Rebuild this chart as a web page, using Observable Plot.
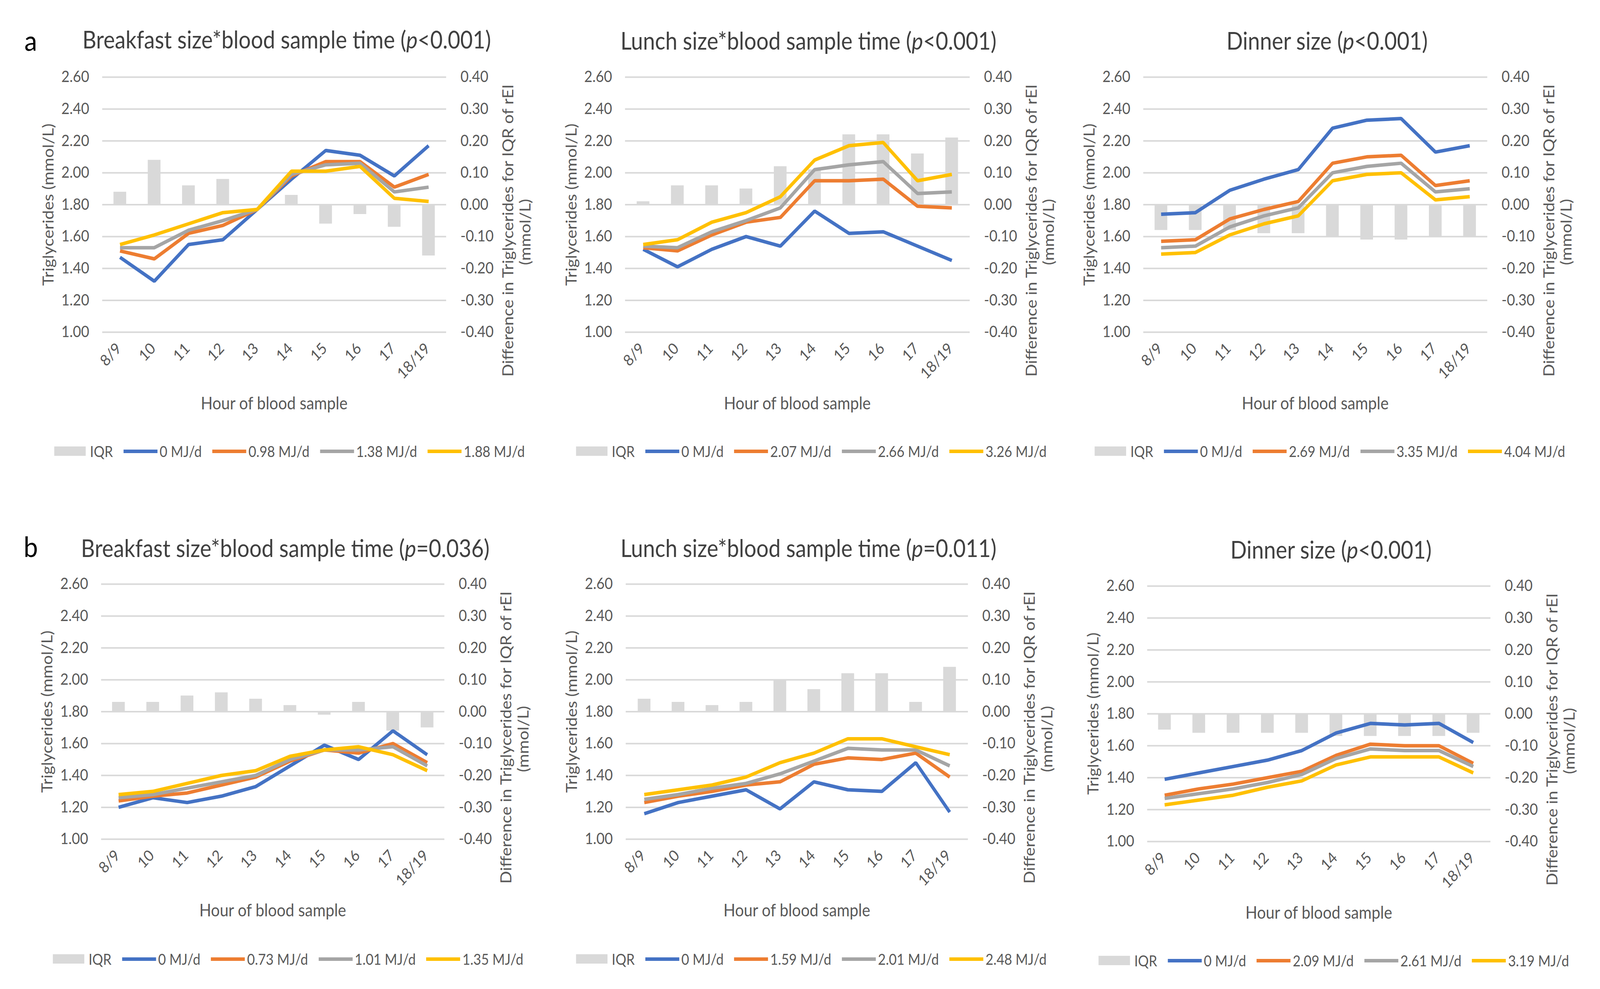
<!DOCTYPE html>
<html><head><meta charset="utf-8">
<script src="https://cdn.jsdelivr.net/npm/d3@7"></script>
<script src="https://cdn.jsdelivr.net/npm/@observablehq/plot@0.6"></script>
<style>
html,body{margin:0;padding:0;background:#fff;overflow:hidden;}
#wrap{position:relative;overflow:hidden;background:#fff;}
#root{position:absolute;left:0;top:0;width:4526px;height:2532px;font-family:Lato,"Open Sans",sans-serif;color:#595959;overflow:hidden;background:#fff;transform-origin:0 0;}
.abs{position:absolute;white-space:nowrap;line-height:1;}
.title{font-size:61px;transform:translate(-50%,-50%);color:#404040;}
.tag{font-size:72px;color:#000;transform:translate(-50%,-50%);}
.xt{font-size:44px;transform:translate(-50%,-50%);}
.yt{font-size:43px;transform:translate(-50%,-50%) rotate(-90deg);}
.legend{display:flex;align-items:center;font-size:38px;transform:translate(-50%,-50%);}
.item{display:flex;align-items:center;margin-right:30px;}
.item:last-child{margin-right:0;}
.sw{display:inline-block;margin-right:6px;}
svg{overflow:visible;}
</style></head><body><div id="wrap"><div id="root"></div></div>
<script>
// ---------- data ----------
const hours = ["8/9","10","11","12","13","14","15","16","17","18/19"];
const leftTicks = [1.0, 1.2, 1.4, 1.6, 1.8, 2.0, 2.2, 2.4, 2.6];
const seriesColors = ["#4472C4","#ED7D31","#A5A5A5","#FFC000"];

// a: Breakfast
const aBreakfastIQR = [0.04, 0.14, 0.06, 0.08, 0.00, 0.03, -0.06, -0.03, -0.07, -0.16];
const aBreakfast0   = [1.47, 1.32, 1.55, 1.58, 1.77, 1.96, 2.14, 2.11, 1.98, 2.17];
const aBreakfast098 = [1.51, 1.46, 1.62, 1.67, 1.77, 1.98, 2.07, 2.07, 1.91, 1.99];
const aBreakfast138 = [1.53, 1.53, 1.64, 1.70, 1.77, 1.99, 2.05, 2.06, 1.88, 1.91];
const aBreakfast188 = [1.55, 1.61, 1.68, 1.75, 1.77, 2.01, 2.01, 2.04, 1.84, 1.82];
const aBreakfastLegend = ["IQR","0 MJ/d","0.98 MJ/d","1.38 MJ/d","1.88 MJ/d"];

// a: Lunch
const aLunchIQR = [0.01, 0.06, 0.06, 0.05, 0.12, 0.11, 0.22, 0.22, 0.16, 0.21];
const aLunch0   = [1.52, 1.41, 1.52, 1.60, 1.54, 1.76, 1.62, 1.63, 1.54, 1.45];
const aLunch207 = [1.53, 1.51, 1.61, 1.69, 1.72, 1.95, 1.95, 1.96, 1.79, 1.78];
const aLunch266 = [1.54, 1.53, 1.63, 1.70, 1.78, 2.02, 2.05, 2.07, 1.87, 1.88];
const aLunch326 = [1.55, 1.58, 1.69, 1.75, 1.85, 2.08, 2.17, 2.19, 1.95, 1.99];
const aLunchLegend = ["IQR","0 MJ/d","2.07 MJ/d","2.66 MJ/d","3.26 MJ/d"];

// a: Dinner
const aDinnerIQR = [-0.08, -0.08, -0.08, -0.09, -0.09, -0.10, -0.11, -0.11, -0.10, -0.10];
const aDinner0   = [1.74, 1.75, 1.89, 1.96, 2.02, 2.28, 2.33, 2.34, 2.13, 2.17];
const aDinner269 = [1.57, 1.58, 1.71, 1.77, 1.82, 2.06, 2.10, 2.11, 1.92, 1.95];
const aDinner335 = [1.53, 1.54, 1.66, 1.73, 1.78, 2.00, 2.04, 2.06, 1.88, 1.90];
const aDinner404 = [1.49, 1.50, 1.61, 1.68, 1.73, 1.95, 1.99, 2.00, 1.83, 1.85];
const aDinnerLegend = ["IQR","0 MJ/d","2.69 MJ/d","3.35 MJ/d","4.04 MJ/d"];

// b: Breakfast
const bBreakfastIQR = [0.03, 0.03, 0.05, 0.06, 0.04, 0.02, -0.01, 0.03, -0.06, -0.05];
const bBreakfast0   = [1.20, 1.26, 1.23, 1.27, 1.33, 1.46, 1.59, 1.50, 1.68, 1.53];
const bBreakfast073 = [1.24, 1.27, 1.29, 1.34, 1.39, 1.49, 1.56, 1.54, 1.60, 1.48];
const bBreakfast101 = [1.26, 1.28, 1.32, 1.36, 1.40, 1.50, 1.56, 1.56, 1.58, 1.46];
const bBreakfast135 = [1.28, 1.30, 1.35, 1.40, 1.43, 1.52, 1.56, 1.58, 1.53, 1.43];
const bBreakfastLegend = ["IQR","0 MJ/d","0.73 MJ/d","1.01 MJ/d","1.35 MJ/d"];

// b: Lunch
const bLunchIQR = [0.04, 0.03, 0.02, 0.03, 0.10, 0.07, 0.12, 0.12, 0.03, 0.14];
const bLunch0   = [1.16, 1.23, 1.27, 1.31, 1.19, 1.36, 1.31, 1.30, 1.48, 1.17];
const bLunch159 = [1.23, 1.27, 1.30, 1.34, 1.36, 1.47, 1.51, 1.50, 1.54, 1.39];
const bLunch201 = [1.25, 1.28, 1.32, 1.35, 1.41, 1.49, 1.57, 1.56, 1.56, 1.46];
const bLunch248 = [1.28, 1.31, 1.34, 1.39, 1.48, 1.54, 1.63, 1.63, 1.58, 1.53];
const bLunchLegend = ["IQR","0 MJ/d","1.59 MJ/d","2.01 MJ/d","2.48 MJ/d"];

// b: Dinner
const bDinnerIQR = [-0.05, -0.06, -0.06, -0.06, -0.06, -0.07, -0.07, -0.07, -0.07, -0.06];
const bDinner0   = [1.39, 1.43, 1.47, 1.51, 1.57, 1.68, 1.74, 1.73, 1.74, 1.62];
const bDinner209 = [1.29, 1.33, 1.36, 1.40, 1.44, 1.54, 1.61, 1.60, 1.60, 1.49];
const bDinner261 = [1.27, 1.30, 1.33, 1.37, 1.42, 1.52, 1.58, 1.57, 1.57, 1.47];
const bDinner319 = [1.23, 1.26, 1.29, 1.34, 1.38, 1.48, 1.53, 1.53, 1.53, 1.43];
const bDinnerLegend = ["IQR","0 MJ/d","2.09 MJ/d","2.61 MJ/d","3.19 MJ/d"];

const titles = [
  "Breakfast size*blood sample time (<i>p</i>&lt;0.001)",
  "Lunch size*blood sample time (<i>p</i>&lt;0.001)",
  "Dinner size (<i>p</i>&lt;0.001)",
  "Breakfast size*blood sample time (<i>p</i>=0.036)",
  "Lunch size*blood sample time (<i>p</i>=0.011)",
  "Dinner size (<i>p</i>&lt;0.001)"
];

// ---------- layout ----------
const panels = [
  {L:289,  R:1262, T:197,  B:850,  tx:811,  ty:100,  ly:1155, iqr:aBreakfastIQR, s:[aBreakfast0,aBreakfast098,aBreakfast138,aBreakfast188], leg:aBreakfastLegend},
  {L:1768, R:2743, T:197,  B:850,  tx:2287, ty:103,  ly:1155, iqr:aLunchIQR, s:[aLunch0,aLunch207,aLunch266,aLunch326], leg:aLunchLegend},
  {L:3234, R:4207, T:197,  B:850,  tx:3754, ty:103,  ly:1155, iqr:aDinnerIQR, s:[aDinner0,aDinner269,aDinner335,aDinner404], leg:aDinnerLegend},
  {L:286,  R:1257, T:1495, B:2148, tx:807,  ty:1402, ly:2455, iqr:bBreakfastIQR, s:[bBreakfast0,bBreakfast073,bBreakfast101,bBreakfast135], leg:bBreakfastLegend},
  {L:1770, R:2738, T:1495, B:2148, tx:2287, ty:1402, ly:2455, iqr:bLunchIQR, s:[bLunch0,bLunch159,bLunch201,bLunch248], leg:bLunchLegend},
  {L:3245, R:4216, T:1500, B:2154, tx:3765, ty:1406, ly:2459, iqr:bDinnerIQR, s:[bDinner0,bDinner209,bDinner261,bDinner319], leg:bDinnerLegend}
];

// fit the 4526x2532 design into the actual viewport
const wrap = document.getElementById("wrap");
const root = document.getElementById("root");
const vw = window.innerWidth || document.documentElement.clientWidth || 4526;
const vh = window.innerHeight || document.documentElement.clientHeight || 2532;
const kx = vw / 4526, ky = vh / 2532;
wrap.style.width = vw + "px";
wrap.style.height = vh + "px";
root.style.transform = `scale(${kx}, ${ky})`;

function addDiv(cls, x, y, html) {
  const d = document.createElement("div");
  d.className = "abs " + cls;
  d.style.left = x + "px"; d.style.top = y + "px";
  d.innerHTML = html;
  root.appendChild(d);
  return d;
}

const ML = 260, MR = 260, MT = 60, MB = 160;
panels.forEach((p, pi) => {
  const bars = hours.map((h, i) => ({hour: h, iqr: p.iqr[i]}));
  const lineMarks = p.s.map((vals, j) =>
    Plot.lineY(hours.map((h, i) => ({hour: h, v: vals[i]})),
      {x: "hour", y: "v", stroke: seriesColors[j], strokeWidth: 9, strokeLinejoin: "miter", strokeLinecap: "butt"}));
  const chart = Plot.plot({
    width: (p.R - p.L) + ML + MR,
    height: (p.B - p.T) + MT + MB,
    marginLeft: ML, marginRight: MR, marginTop: MT, marginBottom: MB,
    style: {background: "transparent", fontFamily: "Lato, 'Open Sans', sans-serif", color: "#595959", overflow: "visible"},
    x: {domain: hours, paddingInner: 0.63, paddingOuter: 0.315, axis: null},
    y: {domain: [1.0, 2.6], axis: null},
    marks: [
      Plot.ruleY(leftTicks, {y: d => d, stroke: "#d9d9d9", strokeWidth: 4}),
      Plot.barY(bars, {x: "hour", y1: () => 1.8, y2: d => 1.8 + 2 * d.iqr, fill: "#d9d9d9"}),
      ...lineMarks,
      Plot.text(leftTicks, {y: d => d, text: d => d.toFixed(2), frameAnchor: "left", textAnchor: "end", dx: -37, fontSize: 40, fill: "#595959"}),
      Plot.text(leftTicks, {y: d => d, text: d => ((d - 1.8) / 2).toFixed(2), frameAnchor: "right", textAnchor: "start", dx: 40, fontSize: 40, fill: "#595959"}),
      Plot.text(hours, {x: d => d, text: d => d, frameAnchor: "bottom", textAnchor: "end", rotate: -45, dy: 44, dx: 6, fontSize: 40, fill: "#595959"})
    ]
  });
  chart.style.position = "absolute";
  chart.style.left = (p.L - ML) + "px";
  chart.style.top = (p.T - MT) + "px";
  chart.style.maxWidth = "none";
  root.appendChild(chart);

  const cy = (p.T + p.B) / 2;
  addDiv("title", p.tx, p.ty, titles[pi]);
  addDiv("yt", p.L - 154, cy, "Triglycerides (mmol/L)");
  addDiv("yt", p.R + 173, cy + 66, "Difference in Triglycerides for IQR of rEI");
  addDiv("yt", p.R + 222, cy + 70, "(mmol/L)");
  addDiv("xt", (p.L + p.R) / 2, p.B + 181, "Hour of blood sample");

  const items = p.leg.map((lab, j) => {
    const sw = j === 0
      ? `<span class="sw" style="width:89px;height:24px;background:#d9d9d9;margin-right:12px"></span>`
      : `<span class="sw" style="width:96px;height:9px;background:${seriesColors[j - 1]}"></span>`;
    return `<span class="item">${sw}<span>${lab}</span></span>`;
  }).join("");
  addDiv("legend", p.tx + 8, p.ly, items);
});
addDiv("tag", 87, 102, "a");
addDiv("tag", 87, 1398, "b");
</script></body></html>
